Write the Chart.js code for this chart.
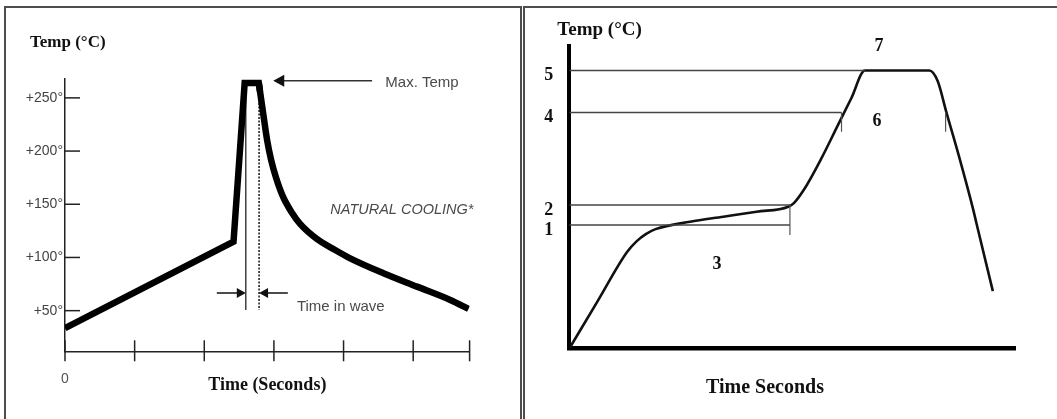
<!DOCTYPE html>
<html>
<head>
<meta charset="utf-8">
<title>Temperature profiles</title>
<script src="https://cdn.jsdelivr.net/npm/chart.js"></script>
<style>
  html, body { margin: 0; padding: 0; background: #fff; }
  body { position: relative; width: 1057px; height: 419px; overflow: hidden; }
  .panel { position: absolute; top: 6px; height: 430px; box-sizing: border-box; border: 2px solid #4d4d4d; border-bottom: none; }
  #panelWave { left: 4px; width: 518px; }
  #panelReflow { left: 523px; width: 560px; border-right: none; }
  canvas { position: absolute; left: 0; top: 0; }
</style>
</head>
<body>
<div class="panel" id="panelWave"></div>
<div class="panel" id="panelReflow"></div>
<canvas id="waveChart" width="1057" height="419"></canvas>
<canvas id="reflowChart" width="1057" height="419"></canvas>
<script>
// ---- wave soldering profile (left) ----
const waveTimeTicks = [0, 10, 20, 30, 40, 50, 58.1];
const waveTempTicks = [50, 100, 150, 200, 250];
const heatTime = [0, 24.2, 25.8, 27.83, 28.0];
const heatTemp = [33.5, 114.9, 264, 264, 256.3];
const coolTime = [27.83, 28.45, 29.02, 29.6, 30.32, 31.32, 32.61, 33.76, 36.16, 38.79, 40.95, 45.73, 50.53, 55.32, 57.95];
const coolTemp = [264, 235.8, 210.4, 191.6, 174.7, 156.9, 141.8, 131.5, 117.4, 107.0, 99.2, 85.2, 72.6, 60.1, 51.6];
const waveMarks = [25.96, 27.87];        // time in wave
const waveMarkTemp = [255, 50.7];
const maxTempArrow = [[44.1, 266.2], [29.9, 266.2]];   // tail, tip
const waveArrowTemp = 66.6;
const waveArrowTails = [21.8, 32.0];
const waveNotes = ["Max. Temp", "NATURAL COOLING*", "Time in wave"];
const waveNoteTime = [46.0, 38.1, 33.3];
const waveNoteTemp = [264.2, 144.6, 53.8];
const waveNoteSize = [15, 14.5, 15];

// ---- reflow profile (right) ----
const reflowTime = [0, 19.2, 38.5, 45, 51, 57.5, 80.5, 102.7, 124.9, 146, 149.9, 156.6,
    167.9, 179.1, 188.1, 197.1, 240, 245.6, 251.3, 260.3, 269.3, 271.5, 282.4];
const reflowTemp = [0, 48.3, 96.6, 107.5, 114.5, 119.5, 126.9, 131.9, 136.9, 141.9, 145.8, 159.3,
    189.7, 223.5, 250.6, 278.1, 278.1, 267.6, 237, 189.7, 139, 125.1, 57.5];
const levelTemps = [123.6, 143.6, 236.1, 278.1];
const levelNames = ["1", "2", "4", "5"];
const levelEnds = [147.1, 147.1, 181.5, 197.1];
const stepMarkTime = [147.1, 181.5, 250.9];
const stepMarkFrom = [143.6, 236.1, 236.1];
const stepMarkTo = [113.6, 216.9, 216.9];
const zoneNames = ["3", "6", "7"];
const zoneTime = [98.5, 205.1, 206.5];
const zoneTemp = [84.6, 227.6, 302.1];

const SERIF = "'Liberation Serif', 'Times New Roman', serif";
const SANS = "'Liberation Sans', Arial, sans-serif";

function pts(xs, ys) {
    return xs.map((x, i) => ({x: x, y: ys[i]}));
}

function seg(ctx, x1, y1, x2, y2) {
    ctx.beginPath();
    ctx.moveTo(x1, y1);
    ctx.lineTo(x2, y2);
    ctx.stroke();
}

function arrow(ctx, x1, y1, x2, y2, len, half) {
    const a = Math.atan2(y2 - y1, x2 - x1);
    const c = Math.cos(a), s = Math.sin(a);
    seg(ctx, x1, y1, x2 - c * len * 0.7, y2 - s * len * 0.7);
    ctx.beginPath();
    ctx.moveTo(x2, y2);
    ctx.lineTo(x2 - c * len + s * half, y2 - s * len - c * half);
    ctx.lineTo(x2 - c * len - s * half, y2 - s * len + c * half);
    ctx.closePath();
    ctx.fill();
}

const waveDecor = {
    id: "waveDecor",
    afterDraw(chart) {
        const {ctx, chartArea: a} = chart;
        const x = chart.scales.x, y = chart.scales.y;
        ctx.save();
        ctx.strokeStyle = "#222";
        ctx.fillStyle = "#111";
        ctx.lineWidth = 1.5;

        // tick marks, inward on y, across the axis on x
        y.ticks.forEach(t => {
            const py = y.getPixelForValue(t.value);
            seg(ctx, a.left, py, a.left + 15, py);
        });
        x.ticks.forEach(t => {
            const px = x.getPixelForValue(t.value);
            seg(ctx, px, a.bottom - 11, px, a.bottom + 10);
        });

        // arrows
        ctx.strokeStyle = "#333";
        arrow(ctx, x.getPixelForValue(maxTempArrow[0][0]), y.getPixelForValue(maxTempArrow[0][1]),
            x.getPixelForValue(maxTempArrow[1][0]), y.getPixelForValue(maxTempArrow[1][1]), 11, 6);
        ctx.strokeStyle = "#111";
        const ay = y.getPixelForValue(waveArrowTemp);
        waveArrowTails.forEach((t, i) => {
            arrow(ctx, x.getPixelForValue(t), ay, x.getPixelForValue(waveMarks[i]), ay, 9, 5);
        });

        // notes
        ctx.textBaseline = "middle";
        ctx.textAlign = "left";
        ctx.fillStyle = "#4a4a4a";
        waveNotes.forEach((txt, i) => {
            ctx.font = (i === 1 ? "italic " : "") + waveNoteSize[i] + "px " + SANS;
            ctx.fillText(txt, x.getPixelForValue(waveNoteTime[i]), y.getPixelForValue(waveNoteTemp[i]));
        });

        ctx.fillStyle = "#111";
        ctx.font = "bold 17px " + SERIF;
        ctx.fillText("Temp (°C)", a.left - 35, a.top - 36);
        ctx.restore();
    }
};

new Chart(document.getElementById("waveChart"), {
    type: "line",
    data: {
        datasets: [
            {
                data: pts(heatTime, heatTemp),
                borderColor: "#000",
                borderWidth: 6.5,
                borderJoinStyle: "miter",
                pointRadius: 0,
                tension: 0
            },
            {
                data: pts(coolTime, coolTemp),
                borderColor: "#000",
                borderWidth: 6.5,
                pointRadius: 0,
                cubicInterpolationMode: "monotone"
            },
            {
                data: pts([waveMarks[0], waveMarks[0]], waveMarkTemp),
                borderColor: "#333",
                borderWidth: 1.4,
                pointRadius: 0
            },
            {
                data: pts([waveMarks[1], waveMarks[1]], waveMarkTemp),
                borderColor: "#222",
                borderWidth: 1.6,
                borderDash: [2, 1.5],
                pointRadius: 0
            }
        ]
    },
    options: {
        responsive: false,
        animation: false,
        devicePixelRatio: 1,
        layout: {
            padding: {left: 0, right: 1057 - 469.6, top: 78.4, bottom: 0}
        },
        plugins: {
            legend: {display: false},
            tooltip: {enabled: false}
        },
        scales: {
            x: {
                type: "linear",
                min: 0,
                max: 58.1,
                afterBuildTicks: s => { s.ticks = waveTimeTicks.map(v => ({value: v})); },
                afterFit: s => { s.height = 419 - 351.3; },
                grid: {display: false, drawTicks: false},
                border: {display: true, color: "#222", width: 1.5},
                ticks: {
                    autoSkip: false,
                    maxRotation: 0,
                    padding: 19,
                    color: "#555",
                    font: {family: SANS, size: 14},
                    callback: v => (v === 0 ? "0" : "")
                },
                title: {
                    display: true,
                    text: "Time (Seconds)",
                    color: "#111",
                    font: {family: SERIF, size: 18, weight: "bold"},
                    padding: {top: 0, bottom: 23.2}
                }
            },
            y: {
                type: "linear",
                min: 11.8,
                max: 268.3,
                afterBuildTicks: s => { s.ticks = waveTempTicks.map(v => ({value: v})); },
                afterFit: s => { s.width = 65; },
                grid: {display: false, drawTicks: false},
                border: {display: true, color: "#222", width: 1.5},
                ticks: {
                    autoSkip: false,
                    padding: 2,
                    color: "#444",
                    font: {family: SANS, size: 14},
                    callback: v => "+" + v + "°"
                }
            }
        }
    },
    plugins: [waveDecor]
});

// ---- right chart ----
const reflowDecor = {
    id: "reflowDecor",
    afterDraw(chart) {
        const {ctx, chartArea: a} = chart;
        const x = chart.scales.x, y = chart.scales.y;
        ctx.save();
        ctx.fillStyle = "#111";
        ctx.textBaseline = "middle";
        ctx.textAlign = "center";
        ctx.font = "bold 18px " + SERIF;
        zoneNames.forEach((n, i) => {
            ctx.fillText(n, x.getPixelForValue(zoneTime[i]), y.getPixelForValue(zoneTemp[i]));
        });
        ctx.font = "bold 20px " + SERIF;
        ctx.fillText("Time Seconds", x.getPixelForValue(130.5), a.bottom + 39);
        ctx.textAlign = "left";
        ctx.font = "bold 19px " + SERIF;
        ctx.fillText("Temp (°C)", a.left - 12, a.top - 16);
        ctx.restore();
    }
};

const refLines = levelTemps.map((v, i) => ({
    data: pts([0, levelEnds[i]], [v, v]),
    borderColor: "#444",
    borderWidth: 1.6,
    pointRadius: 0
}));
const stepLines = stepMarkTime.map((t, i) => ({
    data: pts([t, t], [stepMarkFrom[i], stepMarkTo[i]]),
    borderColor: "#555",
    borderWidth: 1.2,
    pointRadius: 0
}));

new Chart(document.getElementById("reflowChart"), {
    type: "line",
    data: {
        datasets: refLines.concat(stepLines, [{
            data: pts(reflowTime, reflowTemp),
            borderColor: "#111",
            borderWidth: 2.6,
            pointRadius: 0,
            cubicInterpolationMode: "monotone"
        }])
    },
    options: {
        responsive: false,
        animation: false,
        devicePixelRatio: 1,
        layout: {
            padding: {left: 0, right: 1057 - 1015.5, top: 46.3, bottom: 0}
        },
        plugins: {
            legend: {display: false},
            tooltip: {enabled: false}
        },
        scales: {
            x: {
                type: "linear",
                min: 0,
                max: 297.5,
                afterFit: s => { s.height = 419 - 348.6; },
                grid: {display: false, drawTicks: false},
                border: {display: true, color: "#000", width: 4.5},
                ticks: {display: false}
            },
            y: {
                type: "linear",
                min: 0,
                max: 302.3,
                afterBuildTicks: s => { s.ticks = levelTemps.map(v => ({value: v})); },
                afterFit: s => { s.width = 569.3; },
                grid: {display: false, drawTicks: false},
                border: {display: true, color: "#000", width: 4},
                ticks: {
                    autoSkip: false,
                    padding: 16,
                    labelOffset: 5,
                    color: "#111",
                    font: {family: SERIF, size: 18, weight: "bold"},
                    callback: (v, i) => levelNames[i]
                }
            }
        }
    },
    plugins: [reflowDecor]
});
</script>
</body>
</html>
